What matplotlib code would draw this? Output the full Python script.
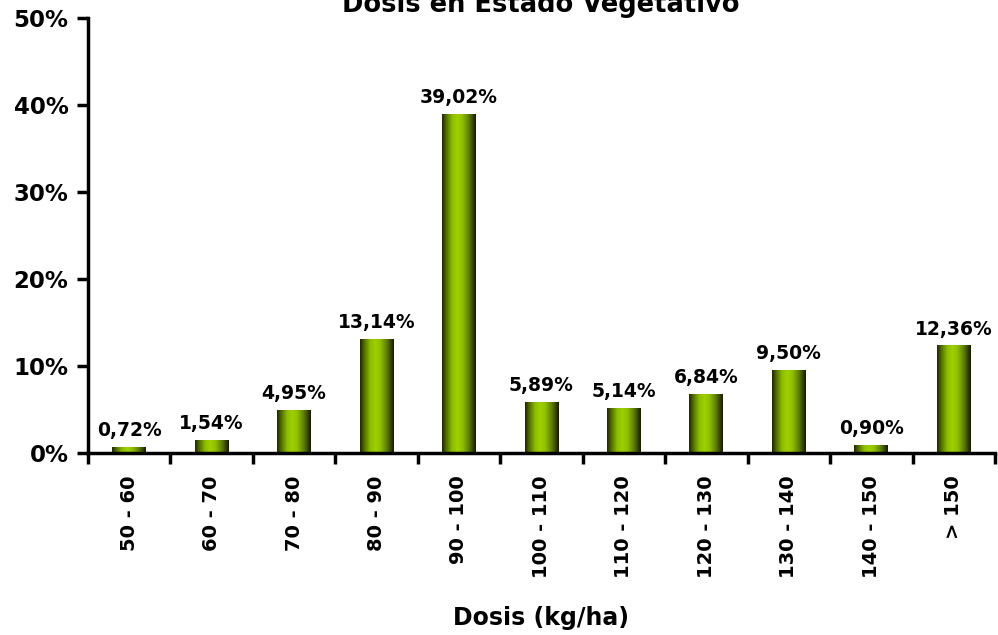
import numpy as np
import matplotlib.pyplot as plt
from matplotlib.colors import LinearSegmentedColormap
from matplotlib.ticker import FuncFormatter, FixedLocator

categories = ['50 - 60', '60 - 70', '70 - 80', '80 - 90', '90 - 100', '100 - 110',
              '110 - 120', '120 - 130', '130 - 140', '140 - 150', '> 150']
values = [0.72, 1.54, 4.95, 13.14, 39.02, 5.89, 5.14, 6.84, 9.50, 0.90, 12.36]

fig = plt.figure(figsize=(9.98, 6.35), dpi=100)
ax = fig.add_axes([0.088, 0.2866, 0.909, 0.685])

x = np.arange(len(categories))
bars = ax.bar(x, values, width=0.41, color='none', edgecolor='none', zorder=2)

# horizontal gradient to imitate the cylinder-like bars
cmap = LinearSegmentedColormap.from_list('green', [
    (0.0, '#1f2600'), (0.12, '#4f6a00'), (0.3, '#8cbd00'), (0.45, '#9fd000'),
    (0.6, '#90c000'), (0.8, '#5c7a00'), (1.0, '#141900')])
grad = np.linspace(0, 1, 256).reshape(1, -1)
for b in bars:
    x0, w, h = b.get_x(), b.get_width(), b.get_height()
    im = ax.imshow(grad, extent=[x0, x0 + w, 0, h], aspect='auto', cmap=cmap,
                   interpolation='bilinear', zorder=2)
    im.set_clip_path(b)

for xi, v in zip(x, values):
    ax.annotate(f'{v:.2f}'.replace('.', ',') + '%', (xi, v), xytext=(0, 5),
                textcoords='offset points', ha='center', va='bottom',
                fontsize=13.5, fontweight='bold')

ax.set_xlim(-0.5, len(categories) - 0.5)
ax.set_ylim(0, 50)
ax.set_yticks(np.arange(0, 51, 10))
ax.yaxis.set_major_formatter(FuncFormatter(lambda v, p: f'{v:.0f}%'))

ax.set_xticks(x)
ax.set_xticklabels(categories, rotation=90, fontsize=14, fontweight='bold')
ax.tick_params(axis='x', which='major', length=0, pad=16)
ax.xaxis.set_minor_locator(FixedLocator(np.arange(-0.5, len(categories), 1)))
ax.tick_params(axis='x', which='minor', length=8, width=2.5, direction='out')
ax.tick_params(axis='y', length=8, width=2.5, labelsize=16.5, pad=6)
for lab in ax.get_yticklabels():
    lab.set_fontweight('bold')

for s in ['top', 'right']:
    ax.spines[s].set_visible(False)
for s in ['left', 'bottom']:
    ax.spines[s].set_linewidth(2.5)

ax.set_xlabel('Dosis (kg/ha)', fontsize=17, fontweight='bold', labelpad=20)
fig.text(0.542, 1 - 12 / 635, 'Dosis en Estado Vegetativo', ha='center',
         va='baseline', fontsize=18.5, fontweight='bold')

fig.savefig('out.png', dpi=100)
